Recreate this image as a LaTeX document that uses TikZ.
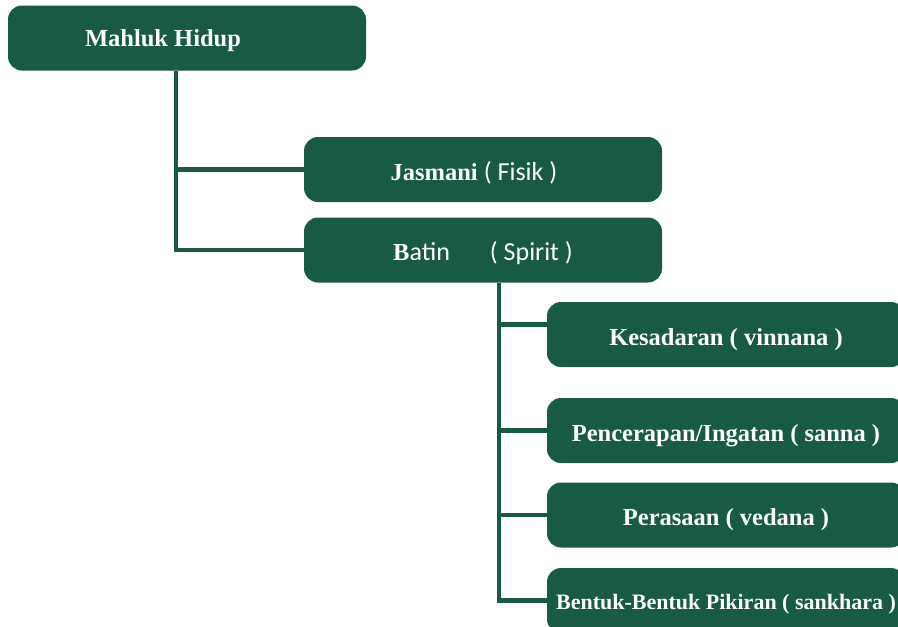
\documentclass[tikz,border=0pt]{standalone}
\usepackage{fontspec}
\setmainfont{Liberation Serif}
\newfontfamily\sansf{Carlito}
\definecolor{leaf}{HTML}{185A43}
\newcommand{\sanstext}[1]{{\sansf\mdseries\fontsize{26}{29}\selectfont #1}}

\begin{document}
\begin{tikzpicture}[x=1pt,y=-1pt,
    box/.style={fill=leaf,rounded corners=14pt,text=white,
      minimum width=358pt,minimum height=65pt,inner sep=0pt,
      text height=21pt,text depth=0pt,
      font=\fontsize{24.5}{28}\selectfont\bfseries},
    link/.style={draw=leaf,line width=4.5pt,line join=miter}]
  \useasboundingbox (0,0) rectangle (898,627);
  \clip (0,0) rectangle (898,627);
  \fill[white] (0,0) rectangle (898,627);

  % Top level
  \node[box,text height=17pt] (root) at (187,38) {Mahluk Hidup\hspace*{48pt}};
  \node[box] (jasmani) at (483,169.5)
    {Jasmani \sanstext{( Fisik )}\hspace*{18pt}};
  \node[box] (batin) at (483,250)
    {B\sanstext{atin}\hspace*{40pt}\sanstext{( Spirit )}};

  % Parts of the batin
  \node[box] (kes) at (726,334.5) {Kesadaran ( vinnana )};
  \node[box] (pen) at (726,430.5) {Pencerapan/Ingatan ( sanna )};
  \node[box] (per) at (726,515) {Perasaan ( vedana )};
  \node[box,text height=17pt,font=\fontsize{22}{26}\selectfont\bfseries] (ben)
    at (726,600.5) {Bentuk-Bentuk Pikiran ( sankhara )};

  % Connectors
  \coordinate (r1) at (176,249);
  \coordinate (r2) at (499,602);
  \draw[link] (root.south -| r1) |- (batin.west);
  \draw[link] (r1 |- jasmani.west) -- (jasmani.west);
  \draw[link] (batin.south -| r2) |- (ben.west);
  \draw[link] ([yshift=10pt]kes.west -| r2) -- ([yshift=10pt]kes.west);
  \draw[link] (r2 |- pen.west) -- (pen.west);
  \draw[link] (r2 |- per.west) -- (per.west);
\end{tikzpicture}
\end{document}
